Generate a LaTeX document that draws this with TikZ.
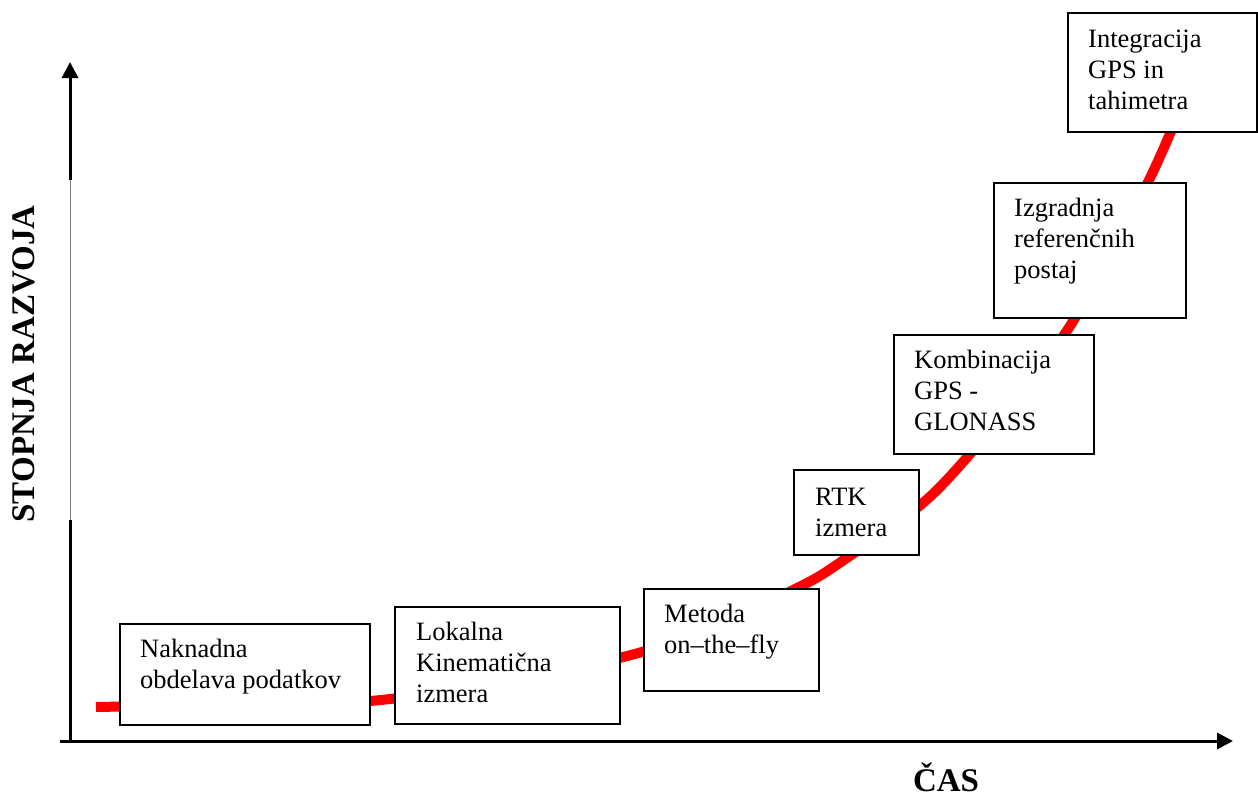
\documentclass[tikz,border=0pt]{standalone}
\usepackage{fontspec}
\setmainfont{Liberation Serif}
\usetikzlibrary{arrows.meta}
\begin{document}
\begin{tikzpicture}[x=1pt,y=-1pt,
  axis/.style={line width=3pt},
  tip/.style={-{Triangle[width=16pt,length=16pt]}},
  curve/.style={red,line width=10pt},
  box/.style={draw,line width=1.8pt,fill=white,inner sep=0pt,anchor=north west},
  lbl/.style={inner sep=0pt,anchor=base west,font=\fontsize{26.5}{31}\selectfont},
  big/.style={font=\fontsize{33}{38}\selectfont\bfseries}]
\path[use as bounding box] (0,0) rectangle (1258,798);
% axes
\coordinate (o) at (70,741);
\coordinate (ylow) at (70,520);
\coordinate (yhigh) at (70,180);
\coordinate (ytop) at (70,62);
\coordinate (xstart) at (60,741);
\coordinate (xend) at (1233,741);
\draw[axis] (o) -- (ylow);
\draw[gray,line width=0.9pt] (ylow) -- (yhigh);
\draw[axis,tip] (yhigh) -- (ytop);
\draw[axis,tip] (xstart) -- (xend);
% red curve
\draw[curve] plot[smooth,tension=0.5] coordinates {(96,707) (250,704) (370,701) (500,683) (631,655) (720,625) (797,588) (832,568) (918,507) (963,462) (1020,393) (1070,326) (1110,253) (1150,178) (1175,122)};
% boxes
\node[box,minimum width=250pt,minimum height=101pt] (b1) at (119,623) {};
\node[box,minimum width=225pt,minimum height=117pt] (b2) at (394,606) {};
\node[box,minimum width=175pt,minimum height=102pt] (b3) at (643,588) {};
\node[box,minimum width=125pt,minimum height=85pt] (b4) at (793,469) {};
\node[box,minimum width=200pt,minimum height=119pt] (b5) at (893,334) {};
\node[box,minimum width=192pt,minimum height=135pt] (b6) at (993,182) {};
\node[box,minimum width=189pt,minimum height=119pt] (b7) at (1067,12) {};
% texts
\node[lbl] (t1) at ([shift={(21,34)}]b1.north west) {\parbox[t]{240pt}{\raggedright Naknadna\\obdelava podatkov}};
\node[lbl] (t2) at ([shift={(22,34)}]b2.north west) {\parbox[t]{200pt}{\raggedright Lokalna\\Kinematična\\izmera}};
\node[lbl] (t3) at ([shift={(21,34)}]b3.north west) {\parbox[t]{150pt}{\raggedright Metoda\\on–the–fly}};
\node[lbl] (t4) at ([shift={(22,36)}]b4.north west) {\parbox[t]{100pt}{\raggedright RTK\\izmera}};
\node[lbl] (t5) at ([shift={(21,34)}]b5.north west) {\parbox[t]{175pt}{\raggedright Kombinacija\\GPS -\\GLONASS}};
\node[lbl] (t6) at ([shift={(21,34)}]b6.north west) {\parbox[t]{170pt}{\raggedright Izgradnja\\referenčnih\\postaj}};
\node[lbl] (t7) at ([shift={(21,35)}]b7.north west) {\parbox[t]{165pt}{\raggedright Integracija\\GPS in\\tahimetra}};
% axis labels
\node[big,rotate=90,inner sep=0pt] (ylab) at (24,364) {STOPNJA RAZVOJA};
\node[big,anchor=base,inner sep=0pt] (xlab) at (946,791) {ČAS};
\end{tikzpicture}
\end{document}
